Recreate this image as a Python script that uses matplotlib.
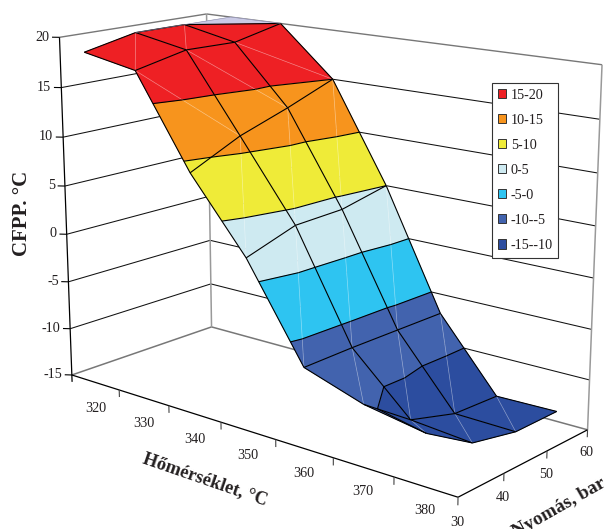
import numpy as np, matplotlib
matplotlib.use('Agg')
import matplotlib.pyplot as plt
from matplotlib.patches import Patch
from mpl_toolkits.mplot3d.art3d import Poly3DCollection, Line3DCollection

plt.rcParams['font.family'] = ['Liberation Serif', 'DejaVu Serif']

# ---- data ----
temperature = [320, 330, 340, 350, 360, 370, 380]
pressure = [30, 40, 50, 60]
cfpp_320 = [18.9, 20.0, 20.0, 20.0]
cfpp_330 = [17.9, 19.0, 18.9, 20.0]
cfpp_340 = [9.0, 11.4, 13.1, 15.0]
cfpp_350 = [2.0, 3.7, 3.9, 5.0]
cfpp_360 = [-7.1, -7.0, -7.0, -7.0]
cfpp_370 = [-9.0, -12.5, -13.9, -14.1]
cfpp_380 = [-10.0, -13.0, -14.0, -14.0]
z_ticks = [-15, -10, -5, 0, 5, 10, 15, 20]
band_edges = [-15, -10, -5, 0, 5, 10, 15, 20, 25]
band_colors = ['#2C4D9F', '#4263AE', '#2EC4F1', '#CEEAF1', '#EFEB38', '#F7941D', '#EE2024', '#CBCBE6']
legend_labels = ['15-20', '10-15', '5-10', '0-5', '-5-0', '-10--5', '-15--10']

Z = np.array([cfpp_320, cfpp_330, cfpp_340, cfpp_350, cfpp_360, cfpp_370, cfpp_380])
T_LO, T_HI, P_LO, P_HI, Z_LO, Z_HI = 315, 385, 30, 60, -15, 20
W, H = 609, 529
INK = '#231F20'

# ---- camera fitted to the reference's box (pixel landmarks) ----
def zw(z):
    return (z - Z_LO) / (Z_HI - Z_LO)
landmarks = [((0,0,0),(72,375)),((0,0,1),(60,37)),((0,1,0),(212,327)),((0,1,1),(206,14)),((1,0,0),(458,497)),
 ((1,1,0),(588,429)),((1,1,1),(602,65)),((1/7,0,0),(119,390)),((2/7,0,0),(169,405)),((3/7,0,0),(221,422)),
 ((4/7,0,0),(276,440)),((5/7,0,0),(333,458)),((6/7,0,0),(394,477)),((1,1/3,0),(504,473)),((1,2/3,0),(547,452)),
 ((0,0,zw(15)),(62,88)),((0,0,zw(10)),(63,137)),((0,0,zw(5)),(64,186)),((0,0,zw(-10)),(70,329)),
 ((1,1,zw(15)),(600,119)),((1,1,zw(10)),(598,173)),((1,1,zw(5)),(596,226)),((1,1,zw(0)),(593,278)),((1,1,zw(-10)),(589,380))]
rows = []
for (u, v, w), (x, y) in landmarks:
    y = H - y
    rows.append([u, v, w, 1, 0, 0, 0, 0, -x*u, -x*v, -x*w, -x])
    rows.append([0, 0, 0, 0, u, v, w, 1, -y*u, -y*v, -y*w, -y])
C = np.linalg.svd(np.array(rows, float))[2][-1].reshape(3, 4)
C = C / (C[2] @ np.array([.5, .5, .5, 1]))
Munit = np.vstack([C[0], C[1], [-1, 0.5, -0.3, 2], C[2]])
N = np.array([[1/(T_HI-T_LO), 0, 0, -T_LO/(T_HI-T_LO)],
              [0, 1/(P_HI-P_LO), 0, -P_LO/(P_HI-P_LO)],
              [0, 0, 1/(Z_HI-Z_LO), -Z_LO/(Z_HI-Z_LO)],
              [0, 0, 0, 1]])
M = Munit @ N

fig = plt.figure(figsize=(W/100, H/100), dpi=100)
ax = fig.add_axes([0, (H-W)/2/H, 1, W/H], projection='3d', computed_zorder=False)
ax.set_axis_off()
def fixed_proj():
    ax.viewLim.intervalx = (0, W)
    ax.viewLim.intervaly = ((H-W)/2, H+(W-H)/2)
    return M
ax.get_proj = fixed_proj
fixed_proj()

def project(x, y, z):
    v = M @ np.array([x, y, z, 1.0])
    return v[0]/v[3], v[1]/v[3]

def label(x, y, z, s, direction=None, **kw):
    px, py = project(x, y, z)
    rot = 0
    if direction is not None:
        qx, qy = project(x+direction[0], y+direction[1], z+direction[2])
        rot = np.degrees(np.arctan2(qy-py, qx-px))
    ax.text2D(px, py, s, transform=ax.transData, rotation=rot, rotation_mode='anchor',
              ha=kw.pop('ha', 'center'), va=kw.pop('va', 'center'), color=INK, clip_on=False, **kw)

line_groups = {}
def seg(a, b, color='k', lw=0.75, z=2):
    line_groups.setdefault((color, lw, z), []).append([a, b])

# ---- walls ----
GREY = '#777777'
for zt in z_ticks[1:-1]:
    seg((T_LO, P_LO, zt), (T_LO, P_HI, zt), '#111111', 0.75, 2)
    seg((T_LO, P_HI, zt), (T_HI, P_HI, zt), '#111111', 0.75, 2)
seg((T_LO, P_LO, Z_HI), (T_LO, P_HI, Z_HI), GREY, 1.0)
seg((T_LO, P_HI, Z_HI), (T_HI, P_HI, Z_HI), GREY, 1.0)
seg((T_LO, P_LO, Z_LO), (T_LO, P_HI, Z_LO), GREY, 1.1)
seg((T_LO, P_HI, Z_LO), (T_HI, P_HI, Z_LO), GREY, 1.1)
seg((T_LO, P_HI, Z_LO), (T_LO, P_HI, Z_HI), '#999999', 1.1)
seg((T_HI, P_HI, Z_LO), (T_HI, P_HI, Z_HI), '#999999', 1.1)

# ---- front axes and ticks ----
TICK_Z = 0.75
seg((T_LO, P_LO, Z_LO-TICK_Z), (T_LO, P_LO, Z_HI), 'k', 0.9, 6)
seg((T_LO, P_LO, Z_LO), (T_HI, P_LO, Z_LO), 'k', 0.9, 6)
seg((T_HI, P_LO, Z_LO), (T_HI, P_HI, Z_LO), 'k', 0.9, 6)
for i in range(1, 8):
    tt = T_LO + i*10
    seg((tt, P_LO, Z_LO), (tt, P_LO, Z_LO-TICK_Z), '#444444', 0.8, 6)
for p in pressure[1:]:
    seg((T_HI, p, Z_LO), (T_HI, p, Z_LO-TICK_Z), '#444444', 0.8, 6)
for zt in z_ticks:
    seg((T_LO, P_LO, zt), (T_LO-0.87, P_LO-0.61, zt), 'k', 0.8, 6)
    label(T_LO-1.2, P_LO-0.8, zt, str(zt), ha='right', fontsize=10.2)
for t in temperature:
    label(t-0.1, P_LO, Z_LO-2.35-0.5*(370-t)/50, str(t), fontsize=10.2)
for p in pressure:
    label(T_HI, p, Z_LO-2.35, str(p), fontsize=10.2)

label(341.8, P_LO, -21.5, 'Hőmérséklet, °C', direction=(1, 0, 0), fontsize=13.2, fontweight='bold')
label(T_HI, 53.5, -21.5, 'Nyomás, bar', direction=(0, 1, 0), fontsize=13.8, fontweight='bold')
fig.text(22/W, 1-213/H, 'CFPP. °C', rotation=90, ha='center', va='center',
         fontsize=15, fontweight='bold', color=INK)

# ---- surface: triangles clipped into 5-degree bands ----
def clip(poly, level, keep_above):
    out = []
    n = len(poly)
    for i in range(n):
        a, b = poly[i], poly[(i+1) % n]
        ina = a[2] >= level if keep_above else a[2] <= level
        inb = b[2] >= level if keep_above else b[2] <= level
        if ina:
            out.append(a)
        if ina != inb and a[2] != level and b[2] != level:
            f = (level-a[2])/(b[2]-a[2])
            out.append(tuple(a[k]+f*(b[k]-a[k]) for k in range(3)))
    return out

def vert(i, j):
    return (float(temperature[i]), float(pressure[j]), float(Z[i, j]))

tris, seams = [], []
for i in range(len(temperature)-1):
    for j in range(len(pressure)-1):
        a, b, c, d = vert(i, j), vert(i, j+1), vert(i+1, j+1), vert(i+1, j)
        rising = (i == 1) or (i == 0 and j == 2)
        if rising:
            tris += [(a, b, c), (a, c, d)]
            if not (i == 0 and j == 2):
                seams.append([a, c])
        else:
            tris += [(a, b, d), (b, c, d)]
            seams.append([b, d])

polys, cols = [], []
for tri in tris:
    for k in range(len(band_colors)):
        lo, hi = band_edges[k], band_edges[k+1]
        pl = clip(clip(list(tri), lo, True), hi, False)
        uniq = {(round(p[0], 6), round(p[1], 6), round(p[2], 6)) for p in pl}
        if len(uniq) < 3:
            continue
        mz = np.mean([p[2] for p in pl])
        if lo <= mz < hi:
            polys.append(pl)
            cols.append(band_colors[k])
ax.add_collection3d(Poly3DCollection(polys, facecolors=cols, edgecolors=cols, linewidths=0.35,
                                     zsort='average', zorder=3))
ax.add_collection3d(Line3DCollection(seams, colors=[(1, 1, 1, 0.4)], linewidths=0.5, zorder=3.5))

# contour lines between bands
for tri in tris:
    for lev in band_edges[1:-1]:
        hits = []
        for m in range(3):
            p, q = tri[m], tri[(m+1) % 3]
            if (p[2] >= lev) != (q[2] >= lev):
                f = (lev-p[2])/(q[2]-p[2])
                hits.append(tuple(p[n]+f*(q[n]-p[n]) for n in range(3)))
        if len(hits) == 2:
            seg(hits[0], hits[1], 'k', 0.8, 4)

# mesh lines
for i in range(len(temperature)):
    for j in range(len(pressure)):
        if j+1 < len(pressure):
            top = Z[i, j] >= 20 and Z[i, j+1] >= 20
            seg(vert(i, j), vert(i, j+1), '#8a8aa8' if top else 'k', 0.4 if top else 0.8, 4)
        if i+1 < len(temperature):
            top = Z[i, j] >= 20 and Z[i+1, j] >= 20
            seg(vert(i, j), vert(i+1, j), '#8a8aa8' if top else 'k', 0.4 if top else 0.8, 4)

for (color, lw, z), segments in line_groups.items():
    ax.add_collection3d(Line3DCollection(segments, colors=color, linewidths=lw, zorder=z))

# ---- legend ----
handles = [Patch(facecolor=band_colors[6-i], edgecolor='#333333', linewidth=0.7, label=legend_labels[i])
           for i in range(7)]
leg = fig.legend(handles=handles, loc='upper left', bbox_to_anchor=(492/W, 1-83/H), bbox_transform=fig.transFigure,
                 fontsize=10.2, frameon=True, fancybox=False, framealpha=1, edgecolor='#333333',
                 handlelength=0.62, handleheight=0.62, handletextpad=0.3, labelspacing=0.85,
                 borderpad=0.4, borderaxespad=0, labelcolor=INK)
leg.get_frame().set_linewidth(0.8)
leg.set_zorder(10)

fig.savefig('out.png', dpi=100)
